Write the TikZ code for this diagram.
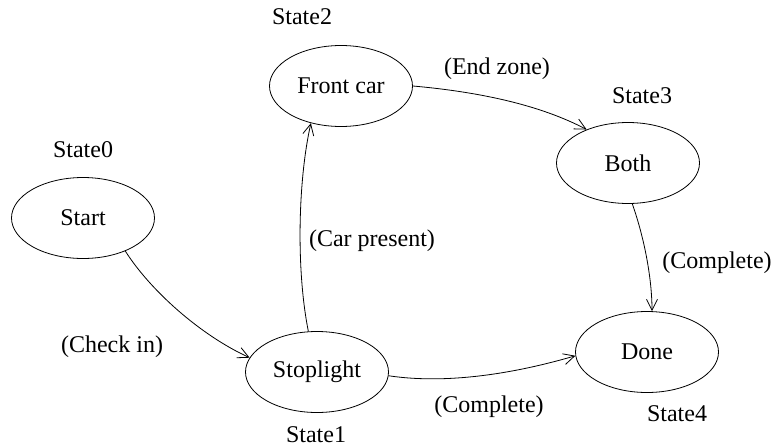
\documentclass[tikz,border=0pt]{standalone}
\usepackage{fontspec}
\setmainfont{Liberation Serif}
\usetikzlibrary{shapes.geometric,arrows.meta}
\begin{document}
\begin{tikzpicture}[x=1pt,y=-1pt,
  state/.style={ellipse,draw,line width=0.8pt,minimum width=143pt,minimum height=81pt,inner sep=0pt,font=\fontsize{24}{28}\selectfont},
  lbl/.style={font=\fontsize{24}{28}\selectfont,inner sep=0pt},
  edge/.style={line width=0.8pt,-{Straight Barb[length=11pt,width=11pt,line width=0.8pt]}}]
\useasboundingbox (0,0) rectangle (774,447);
\node[state] (s0) at (83,218) {Start};
\node[state] (s2) at (341,86) {Front car};
\node[state] (s3) at (628,163) {Both};
\node[state] (s1) at (317,372) {Stoplight};
\node[state] (s4) at (647,352) {Done};
\node[lbl] (l0) at (83,150) {State0};
\node[lbl] (l2) at (302,17) {State2};
\node[lbl] (l3) at (642,96) {State3};
\node[lbl] (l1) at (316,435) {State1};
\node[lbl] (l4) at (677,414) {State4};
\node[lbl] (e1) at (112,347) {(Check in)};
\node[lbl] (e2) at (372,241) {(Car present)};
\node[lbl] (e3) at (497,69) {(End zone)};
\node[lbl] (e4) at (717,263) {(Complete)};
\node[lbl] (e5) at (489,407) {(Complete)};
\draw[edge] (s0.-38) .. controls (150,290) and (200,335) .. (s1.168);
\draw[edge] (s1.102) .. controls (296,270) and (298,180) .. (s2.231);
\draw[edge] (s2.0) .. controls (480,92) and (540,105) .. (s3.141);
\draw[edge] (s3.-84) .. controls (645,240) and (652,280) .. (s4.83);
\draw[edge] (s1.-3) .. controls (450,385) and (520,372) .. (s4.183);
\end{tikzpicture}
\end{document}
